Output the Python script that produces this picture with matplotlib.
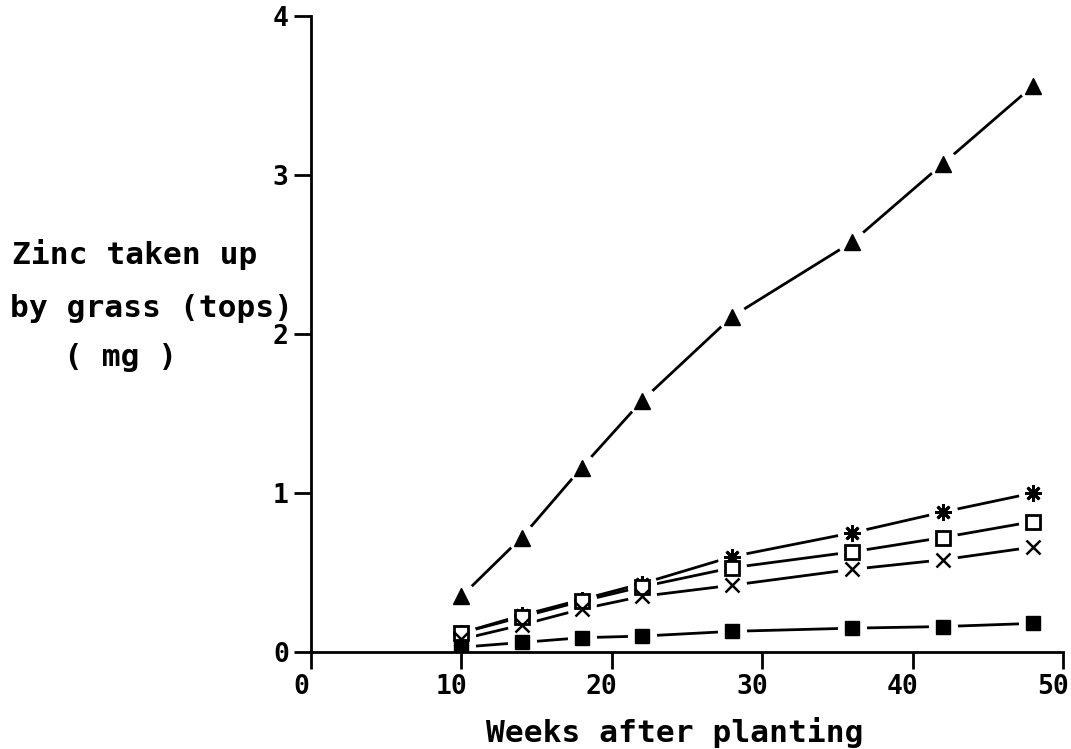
import numpy as np
import matplotlib.pyplot as plt
from matplotlib.transforms import ScaledTranslation

# Weeks after planting at which grass tops were harvested
weeks = [10, 14, 18, 22, 28, 36, 42, 48]

# Cumulative zinc uptake by grass tops (mg) for each treatment
zinc_triangle = [0.35, 0.72, 1.16, 1.58, 2.11, 2.58, 3.07, 3.56]
zinc_asterisk = [0.12, 0.23, 0.33, 0.43, 0.60, 0.75, 0.88, 1.00]
zinc_open_sq = [0.12, 0.22, 0.32, 0.41, 0.53, 0.63, 0.72, 0.82]
zinc_cross = [0.08, 0.17, 0.27, 0.35, 0.42, 0.52, 0.58, 0.66]
zinc_filled_sq = [0.03, 0.06, 0.09, 0.10, 0.13, 0.15, 0.16, 0.18]

x_ticks = [0, 10, 20, 30, 40, 50]
y_ticks = [0, 1, 2, 3, 4]

font = dict(family='DejaVu Sans Mono', weight='bold')

fig = plt.figure(figsize=(10.71, 7.49), dpi=100)
ax = fig.add_axes([311 / 1071, 1 - 652 / 749, 752 / 1071, 636 / 749])

series = [
    (zinc_triangle, dict(marker='^', ms=11, mfc='black', mec='black')),
    (zinc_asterisk, dict(marker=(8, 2, 0), ms=12, mfc='black', mec='black', mew=2)),
    (zinc_open_sq, dict(marker='s', ms=10, mfc='white', mec='black', mew=2)),
    (zinc_cross, dict(marker='x', ms=10, mfc='black', mec='black', mew=1.8)),
    (zinc_filled_sq, dict(marker='s', ms=10, mfc='black', mec='black')),
]

for vals, style in series:
    ax.plot(weeks, vals, color='black', lw=2.0, zorder=2, solid_capstyle='butt')
# white discs leave the small plotter gaps between lines and symbols
for vals, style in series:
    ax.plot(weeks, vals, ls='none', marker='o', ms=21, mfc='white', mec='white', mew=0, zorder=2.2)
for vals, style in series:
    ax.plot(weeks, vals, ls='none', zorder=4, **style)

ax.set_xlim(0, 50)
ax.set_ylim(0, 4)
ax.set_xticks(x_ticks)
ax.set_yticks(y_ticks)
ax.set_xticklabels([str(t) for t in x_ticks], fontsize=19, **font)
ax.set_yticklabels([str(t) for t in y_ticks], fontsize=19, **font)

for side in ['top', 'right']:
    ax.spines[side].set_visible(False)
for side in ['left', 'bottom']:
    ax.spines[side].set_linewidth(2)
ax.tick_params(axis='both', direction='out', length=12, width=2, pad=4)

# plotter labels sit a little to the left of their ticks
shift = ScaledTranslation(-10 / 100, 0, fig.dpi_scale_trans)
for lab in ax.get_xticklabels():
    lab.set_transform(lab.get_transform() + shift)

fig.text(12 / 1071, 1 - 255 / 749, 'Zinc taken up', fontsize=22.5, va='center', ha='left', **font)
fig.text(10 / 1071, 1 - 308 / 749, 'by grass (tops)', fontsize=22.5, va='center', ha='left', **font)
fig.text(64 / 1071, 1 - 358 / 749, '( mg )', fontsize=22.5, va='center', ha='left', **font)
fig.text(675 / 1071, 1 - 742 / 749, 'Weeks after planting', fontsize=22.5, va='baseline', ha='center', **font)

fig.savefig('out.png', dpi=100, facecolor='white')
